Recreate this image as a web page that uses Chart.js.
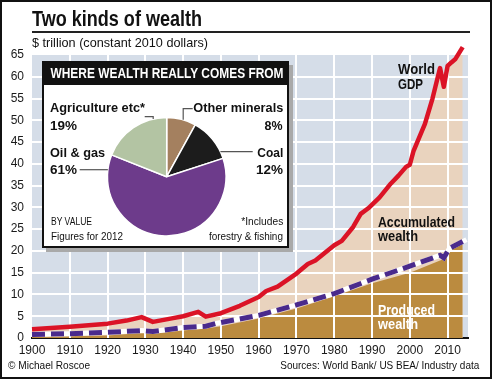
<!DOCTYPE html>
<html><head><meta charset="utf-8">
<script src="https://cdn.jsdelivr.net/npm/chart.js@4/dist/chart.umd.min.js"></script>
<style>
html,body{margin:0;padding:0;background:#fff;}
#wrap{position:relative;width:492px;height:379px;overflow:hidden;font-family:"Liberation Sans",Arial,sans-serif;color:#111;}
#frame{position:absolute;left:0;top:0;width:492px;height:379px;box-sizing:border-box;border:2px solid #111;pointer-events:none;z-index:20;}
#main{position:absolute;left:0;top:0;}
.t{position:absolute;white-space:nowrap;line-height:1;}
.b{font-weight:bold;}
#rule{position:absolute;left:32px;top:31px;width:438px;height:2px;background:#222;}
#inset{position:absolute;left:42px;top:61px;width:247px;height:187px;box-sizing:border-box;border:2px solid #111;background:#fff;box-shadow:4px 4px 0 #a9a9a9;z-index:5;}
#ihead{position:absolute;left:0;top:0;right:0;height:22px;background:#111;}
#pie{position:absolute;left:44px;top:86px;z-index:6;}
</style></head>
<body>
<div id="wrap">
  <canvas id="main" width="492" height="379"></canvas>
  <div id="inset"><div id="ihead"></div></div>
  <canvas id="pie" width="243" height="160"></canvas>
  <div id="rule"></div>
  <div id="frame"></div>
</div>
<script>
// ---- data ----
const xTicks = [1900,1910,1920,1930,1940,1950,1960,1970,1980,1990,2000,2010];
const yTicks = [0,5,10,15,20,25,30,35,40,45,50,55,60,65];
const gdpYears  = [1900,1910,1920,1925,1929,1932,1937,1940,1944,1946,1950,1955,1960,1962,1965,1970,1973,1975,1980,1982,1985,1987,1989,1992,1995,1997,1999,2000,2001,2004,2006,2007,2008,2009,2010,2011,2012,2014];
const gdpValues = [2.0,2.6,3.3,4.0,4.8,3.7,4.5,5.0,6.0,4.9,5.7,7.4,9.4,10.8,11.8,14.8,17.0,17.8,21.3,22.3,25.5,28.5,29.8,32.3,35.5,37.3,39.3,39.8,43.0,49.2,55.0,58.5,62.0,57.7,62.5,63.3,64.0,66.8];
const producedYears  = [1900,1910,1920,1930,1932,1940,1946,1950,1960,1970,1980,1990,2000,2008,2009,2010,2014];
const producedValues = [0.3,0.4,0.6,1.2,1.0,1.7,2.2,2.7,4.5,6.8,9.6,12.6,15.0,17.8,18.2,20.6,21.5];
const trendYears  = [1900,1910,1920,1929,1932,1940,1946,1949,1960,1970,1980,1990,2000,2008,2009,2010.5,2015];
const trendValues = [0.8,1.0,1.3,1.7,1.5,2.4,2.7,3.4,5.2,7.6,10.2,13.5,16.5,19.0,18.4,20.6,22.6];
const pieLabels = ['Other minerals','Coal','Oil & gas','Agriculture etc*'];
const pieValues = [8,12,61,19];

// ---- text ----
const wrap = document.getElementById('wrap');
function lab(txt, x, cy, size, w, opt){
  opt = opt || {};
  const d = document.createElement('div');
  d.className = 't' + (opt.bold ? ' b' : '');
  d.textContent = txt;
  d.style.fontSize = size + 'px';
  d.style.top = (cy - size * 0.5) + 'px';
  if (opt.right) d.style.right = (492 - x) + 'px';
  else if (opt.center) d.style.left = (x - 200) + 'px';
  else d.style.left = x + 'px';
  if (opt.center) { d.style.width = '400px'; d.style.textAlign = 'center'; }
  if (opt.color) d.style.color = opt.color;
  d.style.zIndex = opt.z || 8;
  wrap.appendChild(d);
  let nat;
  if (opt.center) { const s = document.createElement('span'); s.textContent = txt; d.textContent=''; d.appendChild(s); nat = s.getBoundingClientRect().width; }
  else nat = d.getBoundingClientRect().width;
  const k = w / nat;
  d.style.transformOrigin = opt.right ? 'right center' : (opt.center ? 'center center' : 'left center');
  d.style.transform = 'scaleX(' + k.toFixed(3) + ')';
}
lab('Two kinds of wealth', 32, 19, 22, 170, {bold:true});
lab('$ trillion (constant 2010 dollars)', 32, 42, 13, 176);
lab('\u00A9 Michael Roscoe', 8, 366, 11.5, 82);
lab('Sources: World Bank/ US BEA/ Industry data', 479, 366, 11.5, 199, {right:true});
lab('World', 398, 68, 15, 37, {bold:true});
lab('GDP', 398, 83, 15, 25, {bold:true});
lab('Accumulated', 378, 221, 15, 77, {bold:true});
lab('wealth', 378, 235.5, 15, 40, {bold:true});
lab('Produced', 378, 309, 15, 57, {bold:true, color:'#fff'});
lab('wealth', 378, 323.5, 15, 40, {bold:true, color:'#fff'});
// inset labels
lab('WHERE WEALTH REALLY COMES FROM', 166.5, 72.5, 14, 233, {bold:true, center:true, color:'#fff'});
lab('Agriculture etc*', 50, 108, 13.5, 95, {bold:true});
lab('19%', 50, 125.5, 13.5, 27, {bold:true});
lab('Other minerals', 283, 108, 13.5, 90, {bold:true, right:true});
lab('8%', 283, 125.5, 13.5, 18, {bold:true, right:true});
lab('Oil & gas', 50, 153, 13.5, 55, {bold:true});
lab('61%', 50, 170, 13.5, 27, {bold:true});
lab('Coal', 283, 153, 13.5, 26, {bold:true, right:true});
lab('12%', 283, 170, 13.5, 27, {bold:true, right:true});
lab('BY VALUE', 51, 221.5, 11, 41);
lab('Figures for 2012', 51, 236.5, 11, 72);
lab('*Includes', 283, 221.5, 11, 42, {right:true});
lab('forestry & fishing', 283, 236.5, 11, 74, {right:true});

// ---- main chart ----
const pts = (xs, ys) => xs.map((x, i) => ({x: x, y: ys[i]}));
const BG = '#d5dde8';
const bgGrid = {
  id: 'bgGrid',
  beforeDraw(chart){
    const a = chart.chartArea, c = chart.ctx;
    c.save(); c.fillStyle = BG; c.fillRect(a.left, a.top, a.right - a.left, a.bottom - a.top); c.restore();
  },
  afterDatasetDraw(chart, args){
    if (args.index !== 1) return;
    const a = chart.chartArea, c = chart.ctx, xs = chart.scales.x, ys = chart.scales.y;
    c.save(); c.strokeStyle = '#fff'; c.lineWidth = 2;
    xTicks.forEach(v => { if (v === xTicks[0]) return; const p = Math.round(xs.getPixelForValue(v));
      c.beginPath(); c.moveTo(p, a.top); c.lineTo(p, a.bottom); c.stroke(); });
    yTicks.forEach(v => { if (v === 0 || v === yTicks[yTicks.length-1]) return; const p = Math.round(ys.getPixelForValue(v));
      c.beginPath(); c.moveTo(a.left, p); c.lineTo(a.right, p); c.stroke(); });
    c.restore();
  }
};
const tickFont = {family: '"Liberation Sans",Arial,sans-serif', size: 12};
new Chart(document.getElementById('main'), {
  type: 'line',
  data: { datasets: [
    {label:'Accumulated wealth', data: pts(gdpYears, gdpValues), borderColor:'rgba(0,0,0,0)', borderWidth:0, pointRadius:0, fill:'origin', backgroundColor:'#e9d3be', order:6},
    {label:'Produced wealth', data: pts(producedYears, producedValues), borderColor:'rgba(0,0,0,0)', borderWidth:0, pointRadius:0, fill:'origin', backgroundColor:'#bb8b3f', order:5},
    {label:'trend-under', data: pts(trendYears, trendValues), borderColor:'#ffffff', borderWidth:5, pointRadius:0, fill:false, order:3, clip:false},
    {label:'Produced wealth trend', data: pts(trendYears, trendValues), borderColor:'#4a2a8c', borderWidth:5, borderDash:[13,6], pointRadius:0, fill:false, order:2, clip:false},
    {label:'World GDP', data: pts(gdpYears, gdpValues), borderColor:'#db1326', borderWidth:4.5, pointRadius:0, fill:false, order:1, clip:false, borderJoinStyle:'round', borderCapStyle:'butt'}
  ]},
  options: {
    responsive:false, animation:false, events:[],
    layout:{padding:{top:55, right:24, left:0, bottom:0}},
    plugins:{legend:{display:false}, tooltip:{enabled:false}},
    scales:{
      x:{type:'linear', min:1900, max:2015.4,
        afterFit(s){ s.height = 41; },
        afterBuildTicks(s){ s.ticks = xTicks.map(v => ({value:v})); },
        ticks:{autoSkip:false, maxRotation:0, padding:5, color:'#1a1a1a', font:tickFont, callback:v => String(v)},
        grid:{display:false, drawTicks:false}, border:{display:true, color:'#111', width:2}},
      y:{min:0, max:65,
        afterFit(s){ s.width = 32; },
        afterBuildTicks(s){ s.ticks = yTicks.map(v => ({value:v})); },
        ticks:{autoSkip:false, padding:8, color:'#1a1a1a', font:tickFont, callback:v => String(v)},
        grid:{display:false, drawTicks:false}, border:{display:false}}
    }
  },
  plugins:[bgGrid]
});

// ---- pie inset ----
const leaders = {
  id:'leaders',
  afterDraw(chart){
    const arc = chart.getDatasetMeta(0).data[0]; if (!arc) return;
    const cx = arc.x, cy = arc.y, r = arc.outerRadius, c = chart.ctx;
    const edgeY = dx => cy - Math.sqrt(r*r - dx*dx);
    const edgeX = (dy, s) => cx + s*Math.sqrt(r*r - dy*dy);
    c.save(); c.strokeStyle = '#555'; c.lineWidth = 1.2;
    c.beginPath(); c.moveTo(cx - 22, cy - 60); c.lineTo(cx - 13.5, cy - 60); c.lineTo(cx - 13.5, edgeY(-13.5)); c.stroke();
    c.beginPath(); c.moveTo(cx + 26, cy - 68); c.lineTo(cx + 16.5, cy - 68); c.lineTo(cx + 16.5, edgeY(16.5)); c.stroke();
    c.beginPath(); c.moveTo(cx + 86, cy - 25); c.lineTo(edgeX(-25, 1), cy - 25); c.stroke();
    c.beginPath(); c.moveTo(cx - 87, cy - 7); c.lineTo(edgeX(-7, -1), cy - 7); c.stroke();
    c.restore();
  }
};
new Chart(document.getElementById('pie'), {
  type:'pie',
  data:{labels: pieLabels, datasets:[{data: pieValues, backgroundColor:['#a4805f','#1c1c1c','#6d3b8b','#b3c4a3'], borderColor:'#fff', borderWidth:1.5}]},
  options:{responsive:false, animation:false, events:[],
    layout:{padding:{left:62.7, right:60.3, top:30.7, bottom:9.3}},
    plugins:{legend:{display:false}, tooltip:{enabled:false}}},
  plugins:[leaders]
});
</script>
</body></html>
